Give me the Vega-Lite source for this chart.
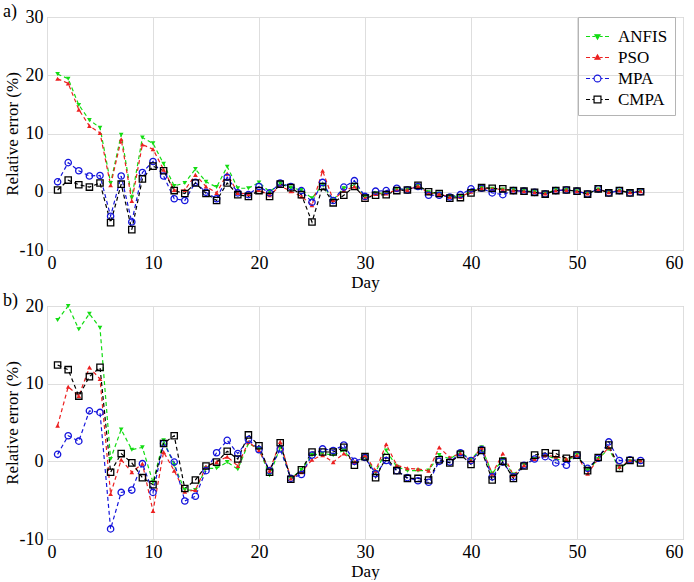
{
  "$schema": "https://vega.github.io/schema/vega-lite/v6.json",
  "padding": {"left": 2, "top": 2, "right": 0, "bottom": 0},
  "spacing": 0,
  "config": {
    "font": "Liberation Serif, serif",
    "view": {"stroke": "#b4b4b4"},
    "axis": {
      "labelFont": "Liberation Serif, serif", "titleFont": "Liberation Serif, serif",
      "labelFontSize": 18, "titleFontSize": 17, "titleFontWeight": "normal",
      "labelColor": "black", "titleColor": "black",
      "gridColor": "#dedede", "domain": false, "ticks": false, "labelPadding": 4
    },
    "axisY": {"titlePadding": -2},
    "axisX": {"titlePadding": 2},
    "legend": {"labelFont": "Liberation Serif, serif"},
    "title": {"font": "Liberation Serif, serif", "fontSize": 18, "fontWeight": "normal", "anchor": "start", "frame": "bounds", "offset": -13, "color": "black"}
  },
  "data": {"values": [
    {"panel":"a","day":1,"ANFIS":20.2,"PSO":19.4,"MPA":1.7,"CMPA":0.3},
    {"panel":"a","day":2,"ANFIS":19.4,"PSO":18.6,"MPA":5.0,"CMPA":2.0},
    {"panel":"a","day":3,"ANFIS":14.9,"PSO":14.1,"MPA":3.6,"CMPA":1.2},
    {"panel":"a","day":4,"ANFIS":12.3,"PSO":11.3,"MPA":2.7,"CMPA":0.8},
    {"panel":"a","day":5,"ANFIS":11.0,"PSO":10.1,"MPA":2.8,"CMPA":1.5},
    {"panel":"a","day":6,"ANFIS":1.5,"PSO":1.1,"MPA":-4.2,"CMPA":-5.3},
    {"panel":"a","day":7,"ANFIS":9.8,"PSO":9.0,"MPA":2.7,"CMPA":1.3},
    {"panel":"a","day":8,"ANFIS":-1.0,"PSO":-1.6,"MPA":-5.2,"CMPA":-6.5},
    {"panel":"a","day":9,"ANFIS":9.3,"PSO":8.1,"MPA":3.3,"CMPA":2.2},
    {"panel":"a","day":10,"ANFIS":8.3,"PSO":7.3,"MPA":5.2,"CMPA":4.4},
    {"panel":"a","day":11,"ANFIS":4.8,"PSO":3.8,"MPA":2.7,"CMPA":3.6},
    {"panel":"a","day":12,"ANFIS":1.0,"PSO":0.3,"MPA":-1.2,"CMPA":0.2},
    {"panel":"a","day":13,"ANFIS":1.5,"PSO":0.3,"MPA":-1.5,"CMPA":-0.3},
    {"panel":"a","day":14,"ANFIS":3.9,"PSO":2.9,"MPA":1.6,"CMPA":1.5},
    {"panel":"a","day":15,"ANFIS":1.7,"PSO":0.9,"MPA":-0.1,"CMPA":-0.3},
    {"panel":"a","day":16,"ANFIS":0.8,"PSO":-0.2,"MPA":-1.2,"CMPA":-1.5},
    {"panel":"a","day":17,"ANFIS":4.3,"PSO":3.1,"MPA":2.5,"CMPA":1.5},
    {"panel":"a","day":18,"ANFIS":0.6,"PSO":-0.2,"MPA":-0.2,"CMPA":-0.5},
    {"panel":"a","day":19,"ANFIS":0.6,"PSO":-0.4,"MPA":-0.5,"CMPA":-0.8},
    {"panel":"a","day":20,"ANFIS":1.6,"PSO":0.3,"MPA":0.9,"CMPA":0.2},
    {"panel":"a","day":21,"ANFIS":0.0,"PSO":-0.6,"MPA":-0.2,"CMPA":-0.8},
    {"panel":"a","day":22,"ANFIS":1.4,"PSO":1.0,"MPA":1.5,"CMPA":1.3},
    {"panel":"a","day":23,"ANFIS":0.7,"PSO":0.1,"MPA":0.9,"CMPA":0.7},
    {"panel":"a","day":24,"ANFIS":0.3,"PSO":-0.8,"MPA":0.2,"CMPA":-0.5},
    {"panel":"a","day":25,"ANFIS":-1.1,"PSO":-2.3,"MPA":-1.8,"CMPA":-5.2},
    {"panel":"a","day":26,"ANFIS":1.2,"PSO":3.6,"MPA":1.6,"CMPA":0.9},
    {"panel":"a","day":27,"ANFIS":-1.4,"PSO":-1.4,"MPA":-1.5,"CMPA":-1.9},
    {"panel":"a","day":28,"ANFIS":0.6,"PSO":0.2,"MPA":0.8,"CMPA":-0.6},
    {"panel":"a","day":29,"ANFIS":1.2,"PSO":0.9,"MPA":1.9,"CMPA":0.9},
    {"panel":"a","day":30,"ANFIS":-0.8,"PSO":-1.1,"MPA":-0.8,"CMPA":-1.1},
    {"panel":"a","day":31,"ANFIS":-0.3,"PSO":-0.4,"MPA":0.1,"CMPA":-0.6},
    {"panel":"a","day":32,"ANFIS":-0.2,"PSO":-0.3,"MPA":0.2,"CMPA":-0.5},
    {"panel":"a","day":33,"ANFIS":0.4,"PSO":0.3,"MPA":0.6,"CMPA":0.2},
    {"panel":"a","day":34,"ANFIS":0.4,"PSO":0.3,"MPA":0.3,"CMPA":0.3},
    {"panel":"a","day":35,"ANFIS":1.0,"PSO":1.0,"MPA":0.9,"CMPA":1.1},
    {"panel":"a","day":36,"ANFIS":-0.1,"PSO":-0.2,"MPA":-0.6,"CMPA":0.0},
    {"panel":"a","day":37,"ANFIS":-0.3,"PSO":-0.4,"MPA":-0.6,"CMPA":-0.3},
    {"panel":"a","day":38,"ANFIS":-0.8,"PSO":-0.9,"MPA":-0.9,"CMPA":-1.1},
    {"panel":"a","day":39,"ANFIS":-0.8,"PSO":-0.9,"MPA":-0.5,"CMPA":-1.0},
    {"panel":"a","day":40,"ANFIS":0.1,"PSO":0.0,"MPA":0.5,"CMPA":-0.2},
    {"panel":"a","day":41,"ANFIS":0.7,"PSO":0.6,"MPA":0.6,"CMPA":0.7},
    {"panel":"a","day":42,"ANFIS":0.5,"PSO":0.5,"MPA":-0.2,"CMPA":0.6},
    {"panel":"a","day":43,"ANFIS":0.4,"PSO":0.4,"MPA":-0.5,"CMPA":0.5},
    {"panel":"a","day":44,"ANFIS":0.3,"PSO":0.2,"MPA":0.2,"CMPA":0.2},
    {"panel":"a","day":45,"ANFIS":0.2,"PSO":0.1,"MPA":0.1,"CMPA":0.1},
    {"panel":"a","day":46,"ANFIS":0.0,"PSO":-0.1,"MPA":-0.1,"CMPA":-0.1},
    {"panel":"a","day":47,"ANFIS":-0.3,"PSO":-0.3,"MPA":-0.4,"CMPA":-0.4},
    {"panel":"a","day":48,"ANFIS":0.3,"PSO":0.2,"MPA":0.2,"CMPA":0.2},
    {"panel":"a","day":49,"ANFIS":0.3,"PSO":0.3,"MPA":0.3,"CMPA":0.3},
    {"panel":"a","day":50,"ANFIS":0.1,"PSO":0.1,"MPA":0.1,"CMPA":0.1},
    {"panel":"a","day":51,"ANFIS":-0.3,"PSO":-0.3,"MPA":-0.4,"CMPA":-0.4},
    {"panel":"a","day":52,"ANFIS":0.4,"PSO":0.4,"MPA":0.5,"CMPA":0.5},
    {"panel":"a","day":53,"ANFIS":-0.1,"PSO":-0.1,"MPA":-0.2,"CMPA":-0.2},
    {"panel":"a","day":54,"ANFIS":0.2,"PSO":0.2,"MPA":0.2,"CMPA":0.2},
    {"panel":"a","day":55,"ANFIS":-0.1,"PSO":-0.1,"MPA":-0.2,"CMPA":-0.2},
    {"panel":"a","day":56,"ANFIS":0.1,"PSO":0.1,"MPA":0.0,"CMPA":0.0},
    {"panel":"b","day":1,"ANFIS":18.2,"PSO":4.6,"MPA":0.9,"CMPA":12.4},
    {"panel":"b","day":2,"ANFIS":20.0,"PSO":9.6,"MPA":3.3,"CMPA":11.8},
    {"panel":"b","day":3,"ANFIS":17.0,"PSO":8.4,"MPA":2.6,"CMPA":8.4},
    {"panel":"b","day":4,"ANFIS":19.0,"PSO":12.1,"MPA":6.5,"CMPA":10.9},
    {"panel":"b","day":5,"ANFIS":17.2,"PSO":10.6,"MPA":6.3,"CMPA":12.1},
    {"panel":"b","day":6,"ANFIS":0.3,"PSO":-4.2,"MPA":-8.7,"CMPA":-1.4},
    {"panel":"b","day":7,"ANFIS":4.1,"PSO":0.2,"MPA":-4.0,"CMPA":1.0},
    {"panel":"b","day":8,"ANFIS":1.5,"PSO":-1.4,"MPA":-3.7,"CMPA":-0.2},
    {"panel":"b","day":9,"ANFIS":1.8,"PSO":-0.3,"MPA":-0.3,"CMPA":-2.1},
    {"panel":"b","day":10,"ANFIS":-2.7,"PSO":-6.4,"MPA":-4.0,"CMPA":-3.0},
    {"panel":"b","day":11,"ANFIS":2.7,"PSO":1.2,"MPA":2.3,"CMPA":2.3},
    {"panel":"b","day":12,"ANFIS":-0.5,"PSO":-1.2,"MPA":-0.1,"CMPA":3.3},
    {"panel":"b","day":13,"ANFIS":-3.7,"PSO":-3.9,"MPA":-5.1,"CMPA":-3.5},
    {"panel":"b","day":14,"ANFIS":-3.7,"PSO":-3.7,"MPA":-4.5,"CMPA":-2.4},
    {"panel":"b","day":15,"ANFIS":-0.9,"PSO":-0.7,"MPA":-1.2,"CMPA":-0.6},
    {"panel":"b","day":16,"ANFIS":-0.9,"PSO":-0.1,"MPA":1.1,"CMPA":-0.1},
    {"panel":"b","day":17,"ANFIS":-0.1,"PSO":0.6,"MPA":2.7,"CMPA":1.3},
    {"panel":"b","day":18,"ANFIS":-1.0,"PSO":-0.6,"MPA":1.0,"CMPA":0.3},
    {"panel":"b","day":19,"ANFIS":2.3,"PSO":2.5,"MPA":2.8,"CMPA":3.4},
    {"panel":"b","day":20,"ANFIS":1.6,"PSO":1.4,"MPA":1.5,"CMPA":2.0},
    {"panel":"b","day":21,"ANFIS":-1.8,"PSO":-1.2,"MPA":-1.2,"CMPA":-1.4},
    {"panel":"b","day":22,"ANFIS":1.8,"PSO":2.5,"MPA":1.6,"CMPA":2.4},
    {"panel":"b","day":23,"ANFIS":-2.2,"PSO":-2.2,"MPA":-2.2,"CMPA":-2.3},
    {"panel":"b","day":24,"ANFIS":-1.1,"PSO":-1.4,"MPA":-1.7,"CMPA":-1.1},
    {"panel":"b","day":25,"ANFIS":0.8,"PSO":0.2,"MPA":0.8,"CMPA":1.2},
    {"panel":"b","day":26,"ANFIS":1.0,"PSO":0.8,"MPA":1.6,"CMPA":1.2},
    {"panel":"b","day":27,"ANFIS":0.8,"PSO":-0.1,"MPA":1.4,"CMPA":1.2},
    {"panel":"b","day":28,"ANFIS":1.4,"PSO":1.0,"MPA":2.1,"CMPA":1.8},
    {"panel":"b","day":29,"ANFIS":-0.3,"PSO":-0.1,"MPA":0.0,"CMPA":-0.5},
    {"panel":"b","day":30,"ANFIS":0.6,"PSO":0.8,"MPA":0.5,"CMPA":0.6},
    {"panel":"b","day":31,"ANFIS":-1.4,"PSO":-1.2,"MPA":-1.6,"CMPA":-2.1},
    {"panel":"b","day":32,"ANFIS":1.4,"PSO":2.2,"MPA":0.1,"CMPA":0.5},
    {"panel":"b","day":33,"ANFIS":-0.7,"PSO":-0.5,"MPA":-1.2,"CMPA":-1.2},
    {"panel":"b","day":34,"ANFIS":-1.2,"PSO":-0.9,"MPA":-2.1,"CMPA":-2.2},
    {"panel":"b","day":35,"ANFIS":-1.2,"PSO":-1.0,"MPA":-2.5,"CMPA":-2.2},
    {"panel":"b","day":36,"ANFIS":-1.2,"PSO":-1.2,"MPA":-2.7,"CMPA":-2.4},
    {"panel":"b","day":37,"ANFIS":0.8,"PSO":1.8,"MPA":0.0,"CMPA":0.2},
    {"panel":"b","day":38,"ANFIS":0.3,"PSO":0.5,"MPA":-0.1,"CMPA":-0.2},
    {"panel":"b","day":39,"ANFIS":1.2,"PSO":1.0,"MPA":1.1,"CMPA":0.9},
    {"panel":"b","day":40,"ANFIS":0.2,"PSO":0.1,"MPA":0.1,"CMPA":-0.4},
    {"panel":"b","day":41,"ANFIS":1.8,"PSO":1.8,"MPA":1.5,"CMPA":1.4},
    {"panel":"b","day":42,"ANFIS":-1.6,"PSO":-1.6,"MPA":-2.0,"CMPA":-2.4},
    {"panel":"b","day":43,"ANFIS":0.3,"PSO":1.0,"MPA":-0.1,"CMPA":0.0},
    {"panel":"b","day":44,"ANFIS":-1.7,"PSO":-1.8,"MPA":-2.0,"CMPA":-2.2},
    {"panel":"b","day":45,"ANFIS":-0.5,"PSO":-0.5,"MPA":-0.5,"CMPA":-0.6},
    {"panel":"b","day":46,"ANFIS":0.3,"PSO":0.3,"MPA":0.3,"CMPA":0.8},
    {"panel":"b","day":47,"ANFIS":0.8,"PSO":0.8,"MPA":0.6,"CMPA":1.1},
    {"panel":"b","day":48,"ANFIS":0.3,"PSO":0.6,"MPA":-0.2,"CMPA":1.0},
    {"panel":"b","day":49,"ANFIS":0.1,"PSO":0.3,"MPA":-0.5,"CMPA":0.4},
    {"panel":"b","day":50,"ANFIS":0.8,"PSO":0.8,"MPA":0.8,"CMPA":0.8},
    {"panel":"b","day":51,"ANFIS":-1.2,"PSO":-1.6,"MPA":-0.9,"CMPA":-1.2},
    {"panel":"b","day":52,"ANFIS":0.3,"PSO":0.3,"MPA":0.4,"CMPA":0.5},
    {"panel":"b","day":53,"ANFIS":1.6,"PSO":1.8,"MPA":2.5,"CMPA":2.1},
    {"panel":"b","day":54,"ANFIS":-0.9,"PSO":-0.7,"MPA":0.1,"CMPA":-0.9},
    {"panel":"b","day":55,"ANFIS":0.0,"PSO":0.1,"MPA":0.2,"CMPA":0.1},
    {"panel":"b","day":56,"ANFIS":0.0,"PSO":0.1,"MPA":0.1,"CMPA":-0.2}
  ]},
  "transform": [{"fold": ["ANFIS", "PSO", "MPA", "CMPA"], "as": ["series", "value"]}],
  "vconcat": [
    {
      "title": {"text": "a)"},
      "width": 636, "height": 233,
      "transform": [{"filter": "datum.panel === 'a'"}],
      "encoding": {
        "x": {"field": "day", "type": "quantitative", "scale": {"domain": [0, 60], "nice": false}, "axis": {"values": [0, 10, 20, 30, 40, 50, 60], "title": "Day", "labelExpr": "'' + datum.value"}},
        "y": {"field": "value", "type": "quantitative", "scale": {"domain": [-10, 30], "nice": false}, "axis": {"values": [-10, 0, 10, 20, 30], "title": "Relative error (%)", "labelExpr": "'' + datum.value"}},
        "color": {
          "field": "series", "type": "nominal",
          "scale": {"domain": ["ANFIS", "PSO", "MPA", "CMPA"], "range": ["#12dc12", "#ec2020", "#1414dc", "#000000"]},
          "legend": {
            "title": null, "orient": "none", "legendX": 531, "legendY": 0, "padding": 7,
            "strokeColor": "#b4b4b4", "labelFont": "Liberation Serif, serif", "labelFontSize": 17, "labelColor": "black",
            "symbolSize": 529, "labelOffset": 8, "rowPadding": 0, "symbolStrokeWidth": 1.2, "symbolOpacity": 1
          }
        }
      },
      "layer": [
        {"mark": {"type": "line", "strokeDash": [4, 3], "strokeWidth": 1.2}},
        {"transform": [{"filter": "datum.series === 'ANFIS'"}], "mark": {"type": "point", "shape": "triangle-down", "filled": true, "opacity": 1, "size": 22}, "encoding": {"color": {"value": "#12dc12"}}},
        {"transform": [{"filter": "datum.series === 'PSO'"}], "mark": {"type": "point", "shape": "triangle-up", "filled": true, "opacity": 1, "size": 22}, "encoding": {"color": {"value": "#ec2020"}}},
        {"transform": [{"filter": "datum.series === 'MPA'"}], "mark": {"type": "point", "shape": "circle", "filled": false, "opacity": 1, "size": 40, "strokeWidth": 1.3}, "encoding": {"color": {"value": "#1414dc"}}},
        {"transform": [{"filter": "datum.series === 'CMPA'"}], "mark": {"type": "point", "shape": "square", "filled": false, "opacity": 1, "size": 40, "strokeWidth": 1.3}, "encoding": {"color": {"value": "#000000"}}},
        {
          "mark": {"type": "point", "opacity": 0, "strokeWidth": 1.2},
          "encoding": {
            "shape": {"field": "series", "type": "nominal", "scale": {"domain": ["ANFIS", "PSO", "MPA", "CMPA"], "range": [
              "M-1,0H-0.65M-0.45,0H-0.22M-0.22,-0.15L0.22,-0.15L0,0.22ZM0.22,0H0.45M0.65,0H1",
              "M-1,0H-0.65M-0.45,0H-0.22M-0.22,0.15L0.22,0.15L0,-0.22ZM0.22,0H0.45M0.65,0H1",
              "M-1,0H-0.65M-0.45,0H-0.3M0.3,0A0.3,0.3,0,1,1,-0.3,0A0.3,0.3,0,1,1,0.3,0ZM0.3,0H0.45M0.65,0H1",
              "M-1,0H-0.65M-0.45,0H-0.3M-0.3,-0.3H0.3V0.3H-0.3ZM0.3,0H0.45M0.65,0H1"
            ]}, "legend": {"title": null, "orient": "none", "legendX": 531, "legendY": 0}},
            "fill": {"field": "series", "type": "nominal", "scale": {"domain": ["ANFIS", "PSO", "MPA", "CMPA"], "range": ["#12dc12", "#ec2020", "transparent", "transparent"]}, "legend": {"title": null, "orient": "none", "legendX": 531, "legendY": 0}}
          }
        }
      ]
    },
    {
      "title": {"text": "b)"},
      "width": 636, "height": 233,
      "transform": [{"filter": "datum.panel === 'b'"}],
      "encoding": {
        "x": {"field": "day", "type": "quantitative", "scale": {"domain": [0, 60], "nice": false}, "axis": {"values": [0, 10, 20, 30, 40, 50, 60], "title": "Day", "labelExpr": "'' + datum.value"}},
        "y": {"field": "value", "type": "quantitative", "scale": {"domain": [-10, 20], "nice": false}, "axis": {"values": [-10, 0, 10, 20], "title": "Relative error (%)", "labelExpr": "'' + datum.value"}},
        "color": {
          "field": "series", "type": "nominal",
          "scale": {"domain": ["ANFIS", "PSO", "MPA", "CMPA"], "range": ["#12dc12", "#ec2020", "#1414dc", "#000000"]},
          "legend": null
        }
      },
      "layer": [
        {"mark": {"type": "line", "strokeDash": [4, 3], "strokeWidth": 1.2}},
        {"transform": [{"filter": "datum.series === 'ANFIS'"}], "mark": {"type": "point", "shape": "triangle-down", "filled": true, "opacity": 1, "size": 22}, "encoding": {"color": {"value": "#12dc12"}}},
        {"transform": [{"filter": "datum.series === 'PSO'"}], "mark": {"type": "point", "shape": "triangle-up", "filled": true, "opacity": 1, "size": 22}, "encoding": {"color": {"value": "#ec2020"}}},
        {"transform": [{"filter": "datum.series === 'MPA'"}], "mark": {"type": "point", "shape": "circle", "filled": false, "opacity": 1, "size": 40, "strokeWidth": 1.3}, "encoding": {"color": {"value": "#1414dc"}}},
        {"transform": [{"filter": "datum.series === 'CMPA'"}], "mark": {"type": "point", "shape": "square", "filled": false, "opacity": 1, "size": 40, "strokeWidth": 1.3}, "encoding": {"color": {"value": "#000000"}}}
      ]
    }
  ],
  "resolve": {"legend": {"color": "independent", "shape": "independent", "fill": "independent"}}
}
